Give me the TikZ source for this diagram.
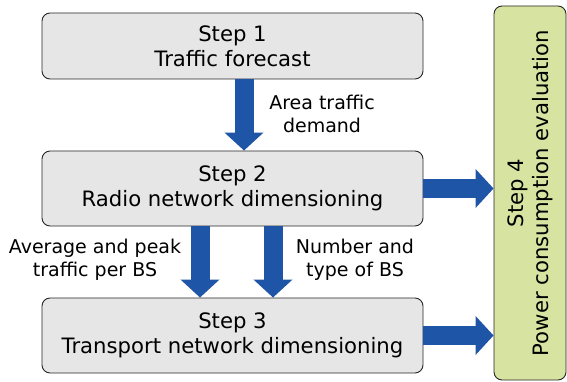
\documentclass[tikz,border=0pt]{standalone}
\usepackage{fontspec}
\setmainfont{DejaVu Sans}
\usetikzlibrary{arrows.meta}
\definecolor{boxgray}{HTML}{E6E6E6}
\definecolor{boxgreen}{HTML}{D7E3A0}
\definecolor{flowblue}{HTML}{1F55A6}
\tikzset{
  stepbox/.style={draw=black!85, fill=boxgray, line width=0.9pt, rounded corners=8pt,
    minimum width=381pt, align=center, font=\fontsize{21.2}{25}\selectfont},
  flow/.style={flowblue, line width=19pt, -{Triangle[width=38pt,length=18pt]}},
  note/.style={align=center, font=\fontsize{19}{23}\selectfont}
}

\begin{document}
\begin{tikzpicture}[x=1pt,y=-1pt]
\useasboundingbox (0,0) rectangle (567,382);
\node (step1) [stepbox, minimum height=66pt] at (232.5,46) {Step 1\\Traffic forecast};
\node (step2) [stepbox, minimum height=75pt] at (232.5,188.5) {Step 2\\Radio network dimensioning};
\node (step3) [stepbox, minimum height=75pt] at (232.5,335.5) {Step 3\\Transport network dimensioning};
\node (step4) [draw=black!85, fill=boxgreen, line width=0.9pt, rounded corners=8pt,
  minimum width=72pt, minimum height=374pt] at (530,193) {};
\node (step4text) [rotate=90, align=center, font=\fontsize{21.2}{25}\selectfont] at (step4.center)
  {Step 4\\Power consumption evaluation};

\draw [flow] ([xshift=11.5pt]step1.south) -- ([xshift=11.5pt]step2.north);
\draw [flow] ([xshift=-32.5pt]step2.south) -- ([xshift=-32.5pt]step3.north);
\draw [flow] ([xshift=40.5pt]step2.south) -- ([xshift=40.5pt]step3.north);
\draw [flow] (step2.east) -- (step2.east -| step4.west);
\draw [flow] (step3.east) -- (step3.east -| step4.west);

\node (demand) [note] at (322,114) {Area traffic\\demand};
\node (avgpeak) [note] at (95,260) {Average and peak\\traffic per BS};
\node (numtype) [note] at (355,260) {Number and\\type of BS};
\end{tikzpicture}
\end{document}
